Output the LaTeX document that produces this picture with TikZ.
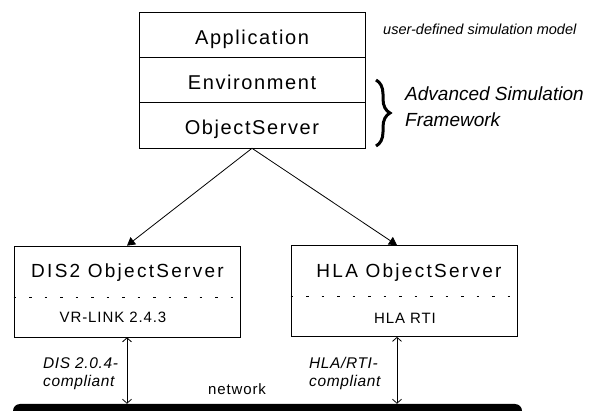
\documentclass[tikz,border=0pt]{standalone}
\usepackage{fontspec}
\setmainfont{Liberation Sans}
\usetikzlibrary{arrows.meta,decorations.pathreplacing}
\newcommand{\layerfont}{\fontsize{20}{24}\selectfont\addfontfeature{LetterSpace=8}}
\newcommand{\serverfont}{\fontsize{19}{23}\selectfont\addfontfeature{LetterSpace=12}}
\newcommand{\libfont}{\fontsize{15}{18}\selectfont\addfontfeature{LetterSpace=6}}
\newcommand{\notefont}{\itshape\fontsize{14.5}{17}\selectfont}

\begin{document}
\begin{tikzpicture}[x=1pt,y=-1pt,
  layer/.style={draw,line width=0.7pt,minimum width=226pt,minimum height=45.3pt,
    inner sep=0pt,text height=19pt,text depth=0pt,font=\layerfont},
  server/.style={draw,line width=0.7pt,minimum width=226pt,minimum height=91pt,inner sep=0pt},
  title/.style={inner sep=0pt,font=\serverfont},
  lib/.style={inner sep=0pt,font=\libfont},
  note/.style={inner sep=0pt,font=\notefont},
  bignote/.style={inner sep=0pt,align=left,font=\itshape\fontsize{19}{26}\selectfont},
  compl/.style={inner sep=0pt,align=left,font=\itshape\fontsize{15.5}{18}\selectfont\addfontfeature{LetterSpace=4}},
  sep/.style={line width=0.8pt,dash pattern=on 2.5pt off 13pt},
  tip/.style={line width=0.8pt,-{Triangle[length=8pt,width=9pt]}},
  link/.style={line width=0.8pt,{Straight Barb[length=4pt,width=9pt]}-{Straight Barb[length=4pt,width=9pt]}},
  net/.style={fill=black,rounded corners=7pt,minimum width=509pt,minimum height=20pt,inner sep=0pt}]
  \useasboundingbox (0,0) rectangle (589,411);
  \clip (0,0) rectangle (589,411);

  % framework layers
  \node[layer] (app) at (252,34.7) {Application};
  \node[layer] (env) at (252,80) {Environment};
  \node[layer] (objsrv) at (252,125.3) {ObjectServer};
  \node[note,anchor=base west] (usr) at (383,35) {user-defined simulation model};
  \draw[decorate,decoration={brace,amplitude=14pt},line width=3pt] (376,80) -- (376,146);
  \node[bignote,anchor=west] (asf) at (405,107) {Advanced Simulation\\Framework};

  % concrete object servers
  \node[server] (dis) at (127,291.5) {};
  \node[server] (hla) at (404,291) {};
  \draw[sep] (dis.west |- 0,297) -- (dis.east |- 0,297);
  \draw[sep] (hla.west |- 0,296) -- (hla.east |- 0,296);
  \node[title,anchor=base] (distitle) at (127.5,278) {DIS2 ObjectServer};
  \node[lib,anchor=base] (vrlink) at (113,323) {VR-LINK 2.4.3};
  \node[title,anchor=base] (hlatitle) at (409,278) {HLA ObjectServer};
  \node[lib,anchor=base] (rti) at (405,324) {HLA RTI};

  % network
  \node[net] (net) at (267.5,414) {};
  \node[lib,anchor=base] (netlbl) at (237,395) {network};
  \node[compl,anchor=north west] (discompl) at (43,357) {DIS 2.0.4-\\compliant};
  \node[compl,anchor=north west] (hlacompl) at (309,357) {HLA/RTI-\\compliant};

  \draw[tip] (objsrv.south) -- (dis.north);
  \draw[tip] (objsrv.south) -- ([xshift=-7pt]hla.north);
  \draw[link] (dis.south) -- (dis.south |- net.north);
  \draw[link] ([xshift=-7pt]hla.south) -- ([xshift=-7pt]hla.south |- net.north);
\end{tikzpicture}
\end{document}
